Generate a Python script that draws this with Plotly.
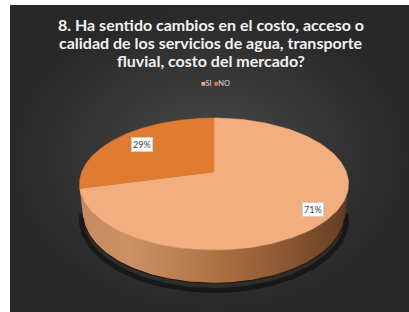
import math
import numpy as np
import plotly.graph_objects as go

# ---- data ----
categories = ["SI", "NO"]
values = [71, 29]
title_text = ("8. Ha sentido cambios en el costo, acceso o<br>"
              "calidad de los servicios de agua, transporte<br>"
              "fluvial, costo del mercado?")

# ---- style ----
top_colors = ["#F3AE80", "#E07C31"]
side_scales = [
    [[0, "#c4895f"], [0.18, "#cc9166"], [0.5, "#b07244"], [0.76, "#8c5834"], [0.95, "#6b4328"], [1, "#5c3821"]],
    [[0, "#b8642a"], [1, "#a0561f"]],
]
label_radius = [0.86, 0.75]

# projection of a tilted 3D pie (perspective)
CX, CY = 214.0, 172.0
K = 132.3
SPHI = 0.482
CPHI = math.sqrt(1 - SPHI ** 2)
D = 4.82
H = 0.26


def project(X, Y, Z):
    X, Y, Z = np.asarray(X, float), np.asarray(Y, float), np.asarray(Z, float)
    v = Y * SPHI + Z * CPHI
    w = Y * CPHI - Z * SPHI
    s = 1 + w / D
    return CX + K * X / s, CY - K * v / s


def arc(a0, a1, z, r=1.0, n=120):
    t = np.radians(np.linspace(a0, a1, n))
    return project(r * np.sin(t), r * np.cos(t), np.full_like(t, z))


fig = go.Figure()

# background panel
fig.add_trace(go.Scatter(
    x=[10, 409, 409, 10, 10], y=[5, 5, 312, 312, 5], mode="lines",
    line=dict(width=0), fill="toself",
    fillgradient=dict(type="radial", colorscale=[[0, "#4a4a4a"], [1, "#282828"]]),
    hoverinfo="skip", showlegend=False))

total = sum(values)
angles = [0.0]
for v in values:
    angles.append(angles[-1] + 360.0 * v / total)

# visible range of the cylinder side
theta_t = math.degrees(math.acos(-1.0 / (D * CPHI)))
vis_lo, vis_hi = theta_t, 360.0 - theta_t

# shadow
sx, sy = arc(vis_lo - 8, vis_hi + 8, -H - 0.03, r=1.015)
fig.add_trace(go.Scatter(x=sx, y=sy + 2, mode="lines", line=dict(color="rgba(10,8,6,0.55)", width=5),
                         hoverinfo="skip", showlegend=False))

# sides
for i in range(len(values)):
    lo, hi = max(angles[i], vis_lo), min(angles[i + 1], vis_hi)
    if hi <= lo:
        continue
    tx, ty = arc(lo, hi, 0.0)
    bx, by = arc(hi, lo, -H)
    fig.add_trace(go.Scatter(
        x=np.concatenate([tx, bx, tx[:1]]), y=np.concatenate([ty, by, ty[:1]]),
        mode="lines", line=dict(width=0), fill="toself",
        fillgradient=dict(type="horizontal", colorscale=side_scales[i]),
        hoverinfo="skip", showlegend=False))

# bottom edge line
bx, by = arc(vis_lo, vis_hi, -H)
fig.add_trace(go.Scatter(x=bx, y=by, mode="lines", line=dict(color="#2b1a0f", width=1.2),
                         hoverinfo="skip", showlegend=False))

# top faces
for i, name in enumerate(categories):
    ax, ay = arc(angles[i], angles[i + 1], 0.0)
    cx0, cy0 = project(0, 0, 0)
    fig.add_trace(go.Scatter(
        x=np.concatenate([[cx0], ax, [cx0]]), y=np.concatenate([[cy0], ay, [cy0]]),
        mode="lines", line=dict(width=0.5, color=top_colors[i]), fill="toself",
        fillcolor=top_colors[i], name=name, hoverinfo="name", showlegend=False))

# data labels
for i, v in enumerate(values):
    mid = math.radians((angles[i] + angles[i + 1]) / 2)
    r = label_radius[i]
    lx, ly = project(r * math.sin(mid), r * math.cos(mid), 0.0)
    fig.add_annotation(x=float(lx), y=float(ly), text=f"{round(100 * v / total)}%", showarrow=False,
                       bgcolor="white", bordercolor="#d0d0d0", borderwidth=1, borderpad=1,
                       font=dict(family="Lato", size=9, color="#404040"))

# legend (text)
legend_html = " ".join(
    f"<span style='color:{top_colors[i]}'>■</span>{c}" for i, c in enumerate(categories))
fig.add_annotation(x=215, y=83, text=legend_html, showarrow=False,
                   font=dict(family="Lato", size=7.5, color="#d9d9d9"))

# title lines
for j, line in enumerate(title_text.split("<br>")):
    fig.add_annotation(x=211, y=24 + 18 * j, text=f"<b>{line}</b>", showarrow=False,
                       font=dict(family="Lato", size=16, color="#f2f2f2"))

fig.update_layout(
    width=409, height=312,
    margin=dict(l=10, r=0, t=5, b=0),
    paper_bgcolor="white", plot_bgcolor="#2e2e2e",
    xaxis=dict(range=[10, 409], visible=False, showgrid=False, zeroline=False),
    yaxis=dict(range=[312, 5], visible=False, showgrid=False, zeroline=False),
    showlegend=False,
)

fig.write_html("out.html", config={"displayModeBar": False},
               post_script="document.body.style.margin='0';document.body.style.overflow='hidden';")
